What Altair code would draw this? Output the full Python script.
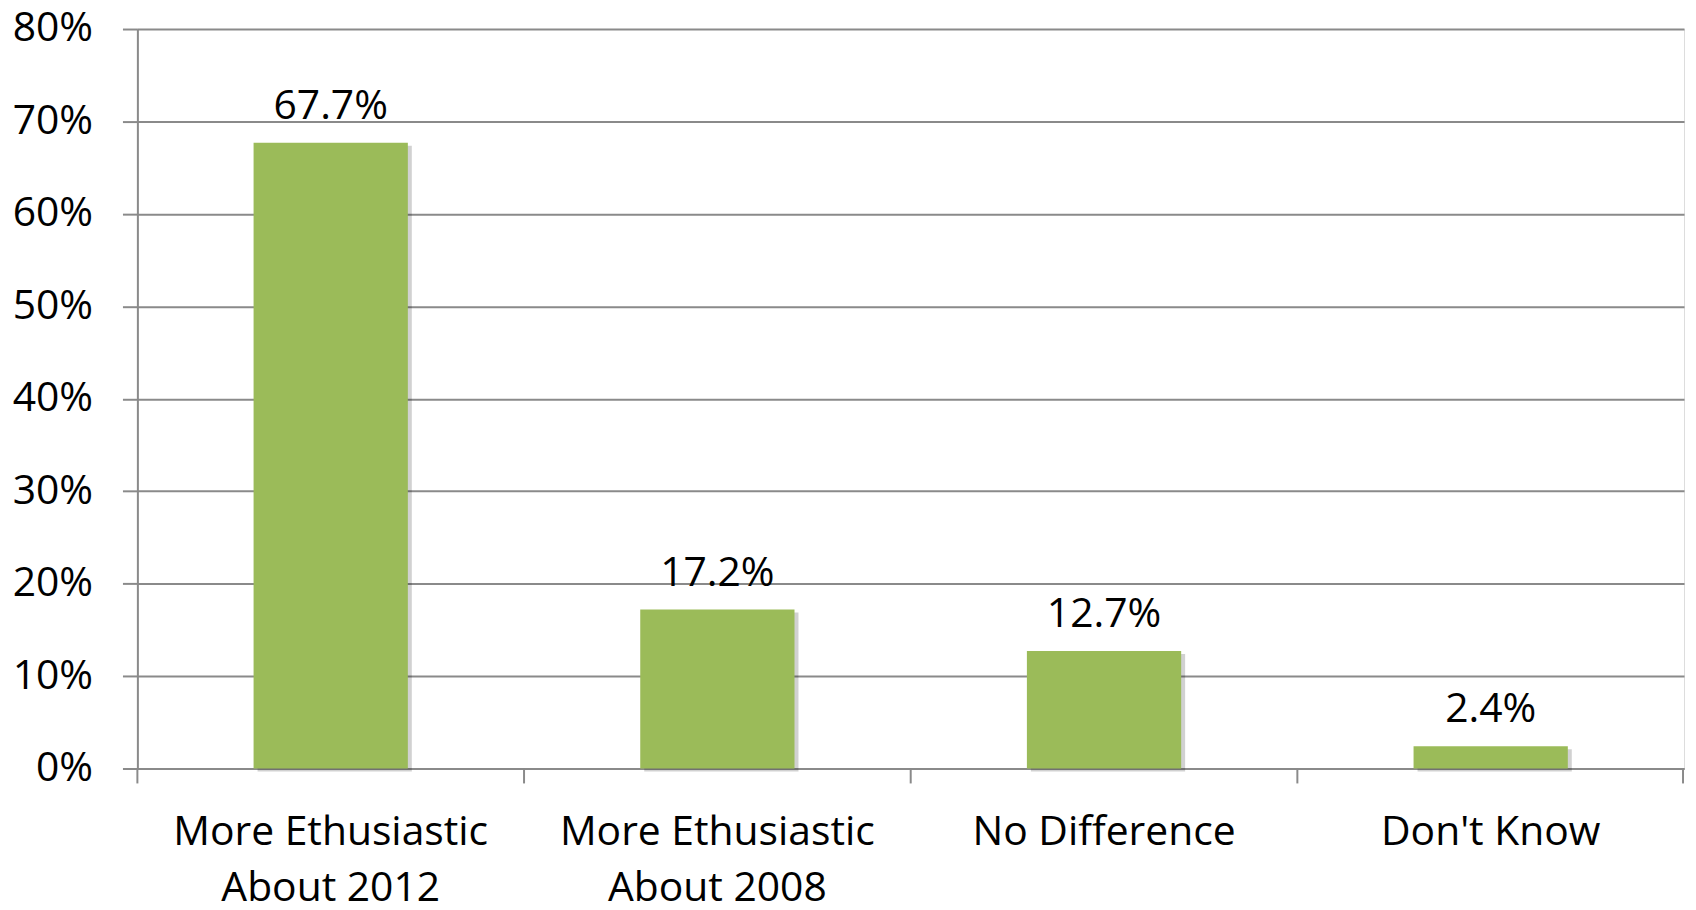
import altair as alt
import pandas as pd

categories = ["More Ethusiastic|About 2012", "More Ethusiastic|About 2008", "No Difference", "Don't Know"]
values = [0.677, 0.172, 0.127, 0.024]

df = pd.DataFrame({"cat": categories, "val": values})

FONT = "Open Sans"
GRAY = "#8a8a8a"
GREEN = "#9BBB59"
FS = 41

xenc = alt.X("cat:N", sort=categories,
             scale=alt.Scale(paddingInner=0, paddingOuter=0),
             axis=alt.Axis(title=None, labelExpr="split(datum.label, '|')",
                           labelFont=FONT, labelFontSize=FS, labelColor="black",
                           labelLineHeight=57, labelPadding=44, labelAngle=0, labelLimit=500,
                           ticks=False, domain=True, domainColor=GRAY, domainWidth=2,
                           grid=False, labelBaseline="top"))
yenc = alt.Y("val:Q", scale=alt.Scale(domain=[0, 0.8], nice=False),
             axis=alt.Axis(title=None, format=".0%", values=[0, 0.1, 0.2, 0.3, 0.4, 0.5, 0.6, 0.7, 0.8],
                           labelFont=FONT, labelFontSize=FS, labelColor="black", labelLimit=300,
                           labelPadding=30, tickSize=15, tickColor=GRAY, tickWidth=2,
                           domain=True, domainColor=GRAY, domainWidth=2,
                           grid=True, gridColor=GRAY, gridWidth=2))

shadow = alt.Chart(df).mark_bar(color="#000000", opacity=0.18, xOffset=4, yOffset=3, size=155).encode(
    x=xenc, y=yenc
)
bars = alt.Chart(df).mark_bar(color=GREEN, size=155).encode(
    x=xenc, y=yenc
)
labels = alt.Chart(df).mark_text(font=FONT, fontSize=FS, color="black", baseline="alphabetic", dy=-24).encode(
    x=alt.X("cat:N", sort=categories), y="val:Q", text=alt.Text("val:Q", format=".1%")
)
ticks = alt.Chart(df).mark_rule(color=GRAY, strokeWidth=2).encode(
    x=alt.X("cat:N", sort=categories, bandPosition=0), y=alt.value(743), y2=alt.value(758)
)
endtick = alt.Chart(df.head(1)).mark_rule(color=GRAY, strokeWidth=2).encode(
    x=alt.value(1553), y=alt.value(743), y2=alt.value(758)
)

chart = alt.layer(shadow, bars, labels, ticks, endtick).properties(
    width=1554, height=743,
    autosize=alt.AutoSizeParams(type="none"),
    padding={"left": 130, "top": 19, "right": 4, "bottom": 132},
).configure_view(stroke=None).configure(background="white")

chart.save("out.html", embed_options={"renderer": "svg", "actions": False})
